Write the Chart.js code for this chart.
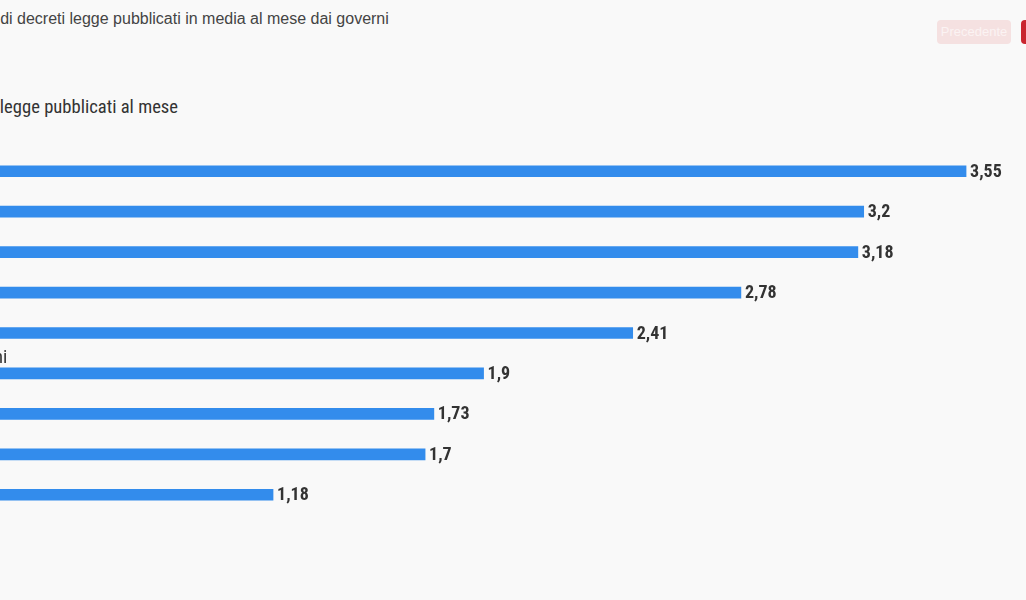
<!DOCTYPE html>
<html><head><meta charset="utf-8">
<script src="https://cdn.jsdelivr.net/npm/chart.js@4/dist/chart.umd.min.js"></script>
<style>
html,body{margin:0;padding:0;background:#f9f9f9;overflow:hidden;width:1026px;height:600px;position:relative;}
#wrap{position:absolute;left:-72px;top:0;width:1098px;height:600px;}
#title{position:absolute;top:9px;font:16px "Liberation Sans",Arial,sans-serif;color:#444;white-space:nowrap;line-height:20px;}
#sub{position:absolute;top:96px;font:18.6px "Roboto Condensed","Liberation Sans Narrow","DejaVu Sans Condensed",sans-serif;color:#333;white-space:nowrap;line-height:22px;}
canvas{position:absolute;left:0;top:0;}
.btn{position:absolute;top:20px;height:24px;border-radius:4px;font:13px "Liberation Sans",Arial,sans-serif;line-height:24px;text-align:center;box-sizing:border-box;}
#prev{left:1009px;width:74px;background:#f5e1e1;color:#fbf3f3;}
#next{left:1093px;width:80px;background:#c9252f;color:#fff;}
</style></head>
<body>
<div id="wrap">
  <div id="title"><span id="tpre">Il numero </span>di decreti legge pubblicati in media al mese dai governi</div>
  <div id="sub"><span id="spre">Numero di decreti </span>legge pubblicati al mese</div>
  <div class="btn" id="prev">Precedente</div>
  <div class="btn" id="next">Successivo</div>
  <canvas id="c" width="1098" height="600"></canvas>
</div>
<script>
const categories = ["Conte II","Meloni","Draghi","Monti","Letta","Gentiloni","Renzi","Conte I","Prodi II"];
const values = [3.55, 3.2, 3.18, 2.78, 2.41, 1.9, 1.73, 1.7, 1.18];

// align visible text start with page left edge
const t = document.getElementById('title'); t.style.left = (72 - document.getElementById('tpre').offsetWidth) + 'px';
const s = document.getElementById('sub'); s.style.left = (72 - document.getElementById('spre').offsetWidth) + 'px';

const labelFont = '18.6px "Roboto Condensed","Liberation Sans Narrow","DejaVu Sans Condensed",sans-serif';
const valueFont = 'bold 18px "Roboto Condensed","Liberation Sans Narrow","DejaVu Sans Condensed",sans-serif';

const labelsPlugin = {
  id: 'barLabels',
  afterDatasetsDraw(chart) {
    const ctx = chart.ctx;
    const meta = chart.getDatasetMeta(0);
    ctx.save();
    meta.data.forEach((bar, i) => {
      ctx.textBaseline = 'middle';
      ctx.textAlign = 'left';
      ctx.fillStyle = '#333';
      ctx.font = valueFont;
      ctx.fillText(String(values[i]).replace('.', ','), bar.x + 4, bar.y + 1);
      ctx.font = labelFont;
      ctx.fillText(categories[i], chart.chartArea.left + 14, bar.y - 15);
    });
    ctx.restore();
  }
};

new Chart(document.getElementById('c'), {
  type: 'bar',
  data: {
    labels: categories,
    datasets: [{
      data: values,
      backgroundColor: '#338cec',
      barThickness: 11,
      borderWidth: 0
    }]
  },
  options: {
    indexAxis: 'y',
    responsive: false,
    devicePixelRatio: 1,
    animation: false,
    layout: { padding: { top: 151, bottom: 85, left: 0, right: 0 } },
    plugins: { legend: { display: false }, tooltip: { enabled: false } },
    scales: {
      x: { display: false, min: 0, max: 3.755 },
      y: { display: false }
    }
  },
  plugins: [labelsPlugin]
});
</script>
</body></html>
